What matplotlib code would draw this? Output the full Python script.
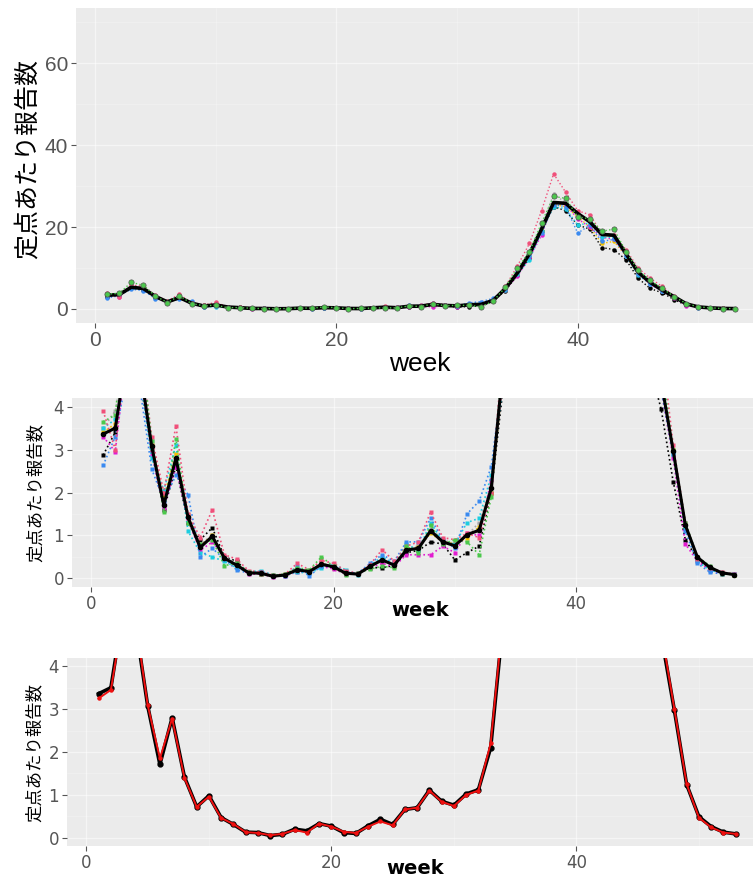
import numpy as np
import matplotlib.pyplot as plt
from matplotlib.ticker import MultipleLocator

plt.rcParams['font.family'] = ['Liberation Sans', 'Noto Sans CJK JP', 'DejaVu Sans']

# -- data: reports per sentinel site, by week
weeks = np.arange(1, 54)

observed = [3.36, 3.5, 5.3, 5.0, 3.08, 1.71, 2.8, 1.42, 0.72, 0.98,
            0.47, 0.31, 0.13, 0.12, 0.05, 0.08, 0.2, 0.16, 0.33, 0.27,
            0.12, 0.1, 0.28, 0.43, 0.31, 0.66, 0.7, 1.11, 0.85, 0.76,
            1.02, 1.12, 2.1, 5.0, 8.8, 13.5, 19.5, 26.0, 25.8, 23.3,
            21.3, 18.2, 18.0, 13.5, 9.0, 6.5, 4.6, 2.97, 1.24, 0.49,
            0.26, 0.13, 0.09]

fitted = [3.25, 3.45, 5.2, 5.1, 3.1, 1.85, 2.78, 1.4, 0.72, 0.96,
          0.46, 0.32, 0.13, 0.11, 0.06, 0.09, 0.18, 0.12, 0.33, 0.26,
          0.14, 0.11, 0.26, 0.38, 0.29, 0.66, 0.7, 1.1, 0.84, 0.74,
          1.0, 1.1, 2.2, 5.1, 8.9, 13.4, 19.4, 25.9, 25.7, 23.2,
          21.2, 18.1, 17.9, 13.4, 9.1, 6.5, 4.7, 3.0, 1.25, 0.47,
          0.24, 0.12, 0.09]

sim_black = [2.87, 3.4, 5.0, 4.7, 3.0, 1.6, 2.6, 1.3, 0.9, 1.18,
             0.5, 0.4, 0.12, 0.1, 0.05, 0.07, 0.18, 0.15, 0.3, 0.25,
             0.1, 0.1, 0.25, 0.25, 0.3, 0.6, 0.65, 0.85, 0.8, 0.43,
             0.6, 0.75, 2.0, 4.5, 8.2, 12.5, 19.0, 25.0, 24.0, 20.5,
             19.5, 15.0, 14.5, 12.0, 7.5, 5.0, 3.95, 2.25, 0.9, 0.45,
             0.22, 0.12, 0.09]
sim_pink = [3.9, 3.0, 5.8, 5.6, 3.3, 2.0, 3.55, 1.5, 0.95, 1.6,
            0.55, 0.45, 0.18, 0.15, 0.08, 0.1, 0.35, 0.2, 0.42, 0.35,
            0.18, 0.12, 0.32, 0.67, 0.4, 0.75, 0.85, 1.55, 0.95, 0.9,
            1.05, 0.95, 2.0, 5.5, 10.5, 16.0, 24.0, 33.0, 28.5, 24.0,
            23.0, 18.5, 18.0, 14.5, 10.0, 7.5, 5.5, 3.1, 1.3, 0.45,
            0.25, 0.15, 0.1]
sim_blue = [2.63, 3.3, 4.8, 4.5, 2.55, 1.8, 2.4, 1.95, 0.5, 0.7,
            0.45, 0.2, 0.12, 0.15, 0.05, 0.06, 0.28, 0.05, 0.3, 0.3,
            0.15, 0.12, 0.35, 0.55, 0.4, 0.85, 0.85, 1.4, 0.9, 0.7,
            1.5, 1.8, 2.6, 4.8, 9.0, 13.0, 18.5, 25.5, 25.0, 18.5,
            20.5, 16.5, 17.0, 13.0, 8.5, 6.0, 4.4, 2.9, 1.1, 0.35,
            0.15, 0.1, 0.1]
sim_cyan = [3.5, 3.7, 5.0, 4.8, 2.8, 2.05, 3.1, 1.1, 0.6, 0.5,
            0.4, 0.25, 0.15, 0.18, 0.08, 0.07, 0.15, 0.12, 0.25, 0.32,
            0.2, 0.08, 0.3, 0.5, 0.35, 0.8, 0.65, 1.3, 0.85, 0.8,
            1.3, 1.4, 2.4, 4.6, 8.5, 12.0, 19.0, 25.0, 24.5, 20.5,
            21.0, 17.5, 17.5, 13.0, 8.3, 6.2, 4.5, 2.9, 1.2, 0.4,
            0.2, 0.12, 0.1]
sim_magenta = [3.3, 2.95, 5.4, 4.9, 2.9, 1.65, 2.6, 1.35, 0.65, 0.85,
               0.5, 0.3, 0.1, 0.1, 0.04, 0.06, 0.15, 0.14, 0.28, 0.22,
               0.1, 0.1, 0.25, 0.35, 0.28, 0.55, 0.55, 0.55, 0.75, 0.6,
               1.05, 1.0, 2.3, 4.7, 8.0, 12.5, 18.0, 26.0, 25.5, 22.0,
               20.0, 17.5, 17.0, 13.2, 8.8, 6.0, 4.4, 2.8, 0.8, 0.4,
               0.2, 0.1, 0.1]
sim_yellow = [3.4, 3.6, 5.2, 5.0, 3.1, 1.9, 2.9, 1.45, 0.75, 1.0,
              0.48, 0.3, 0.12, 0.11, 0.06, 0.09, 0.22, 0.17, 0.35, 0.25,
              0.13, 0.11, 0.27, 0.42, 0.3, 0.7, 0.72, 1.05, 0.85, 0.8,
              0.95, 1.2, 2.0, 4.8, 8.5, 13.0, 19.0, 25.5, 25.0, 22.5,
              20.0, 16.0, 16.5, 13.0, 8.5, 6.2, 4.5, 3.0, 1.25, 0.5,
              0.25, 0.13, 0.09]
sim_gray = [3.5, 3.9, 5.5, 5.2, 3.2, 1.8, 2.9, 1.5, 0.8, 1.0,
            0.5, 0.35, 0.14, 0.13, 0.06, 0.09, 0.22, 0.18, 0.36, 0.28,
            0.13, 0.11, 0.3, 0.45, 0.33, 0.7, 0.75, 1.15, 0.9, 0.8,
            1.0, 1.3, 2.2, 5.2, 9.0, 14.0, 20.0, 28.0, 26.0, 23.5,
            21.0, 18.5, 17.5, 14.0, 9.2, 6.6, 4.7, 3.0, 1.3, 0.5,
            0.27, 0.14, 0.1]
sim_green = [3.65, 3.8, 6.5, 5.8, 3.2, 1.55, 3.25, 1.3, 0.8, 0.9,
             0.3, 0.35, 0.15, 0.1, 0.07, 0.1, 0.25, 0.2, 0.5, 0.28,
             0.08, 0.12, 0.22, 0.28, 0.25, 0.75, 0.6, 1.25, 0.8, 0.9,
             0.85, 0.55, 1.9, 5.3, 10.0, 14.0, 21.0, 27.5, 27.0, 22.5,
             22.0, 19.0, 19.5, 14.0, 9.5, 7.0, 5.0, 3.0, 1.3, 0.5,
             0.3, 0.1, 0.09]

sims = [sim_black, sim_gray, sim_yellow, sim_magenta, sim_cyan,
        sim_blue, sim_pink, sim_green]
sim_colors = ['black', '#A8A8A8', '#F2C200', '#E21CD0', '#1CCDE0',
              '#3A8AF0', '#F0507A', '#4CC84C']

ylabel = '定点あたり報告数'
W, H = 753, 881

fig = plt.figure(figsize=(W / 100, H / 100), dpi=100)


def add_panel(left, right, top, bottom):
    # pixel box -> figure fraction
    return fig.add_axes([left / W, 1 - bottom / H, (right - left) / W, (bottom - top) / H])


def style(ax, ylim, yticks, yminor, tick_size, tick_font):
    ax.set_facecolor('#EBEBEB')
    ax.set_xlim(-1.6, 55.6)
    ax.set_ylim(*ylim)
    ax.set_xticks([0, 20, 40])
    ax.set_yticks(yticks)
    ax.xaxis.set_minor_locator(MultipleLocator(10))
    ax.yaxis.set_minor_locator(MultipleLocator(yminor))
    ax.grid(which='major', color='white', lw=1.0, alpha=0.5)
    ax.grid(which='minor', color='white', lw=0.5, alpha=0.3)
    ax.set_axisbelow(True)
    for s in ax.spines.values():
        s.set_visible(False)
    ax.tick_params(which='major', length=3.5, width=0.8, color='#555555',
                   labelcolor='#555555', labelsize=tick_size, pad=2)
    ax.tick_params(which='minor', length=0)
    for lab in ax.get_xticklabels() + ax.get_yticklabels():
        lab.set_family(tick_font)


# -- top panel: full season
ax1 = add_panel(75.7, 766, 8, 323.3)
style(ax1, (-3.5, 73.5), [0, 20, 40, 60], 10, 15, 'Liberation Sans')
for vals, c in zip(sims[:-1], sim_colors[:-1]):
    ax1.plot(weeks, vals, ls=':', lw=1.0, color=c, marker='o', ms=3.2, mec='none')
ax1.plot(weeks, observed, color='black', lw=2.6)
ax1.plot(weeks, sim_green, ls=':', lw=1.0, color=sim_colors[-1], marker='o', ms=3.8,
         mec='#555555', mew=0.5)
ax1.set_ylabel(ylabel, fontsize=18, family='Noto Sans CJK JP')
ax1.yaxis.set_label_coords((28 - 75.7) / 690.3, 0.52)
ax1.yaxis.label.set_va('center')
ax1.set_xlabel('week', fontsize=19)
ax1.xaxis.set_label_coords((420 - 75.7) / 690.3, (323.3 - 364) / 315.3)
ax1.xaxis.label.set_va('center')

# -- middle panel: zoom on low values, all runs
ax2 = add_panel(71.6, 765.4, 398, 587)
style(ax2, (-0.2, 4.2), [0, 1, 2, 3, 4], 0.5, 12, 'DejaVu Sans')
for vals, c in zip(sims, sim_colors):
    ax2.plot(weeks, vals, ls=':', lw=1.2, color=c, marker='s', ms=2.6, mec='none')
ax2.plot(weeks, observed, color='black', lw=2.2, marker='o', ms=3)
ax2.set_ylabel(ylabel, fontsize=12.5, family='Noto Sans CJK JP')
ax2.yaxis.set_label_coords((36 - 71.6) / 693.8, 0.5)
ax2.yaxis.label.set_va('center')
ax2.set_xlabel('week', fontsize=14, family='DejaVu Sans', weight='bold')
ax2.xaxis.set_label_coords((420 - 71.6) / 693.8, (587 - 611) / 189)
ax2.xaxis.label.set_va('center')

# -- bottom panel: observed vs fitted
ax3 = add_panel(66.8, 767.5, 657.7, 846.3)
style(ax3, (-0.2, 4.2), [0, 1, 2, 3, 4], 0.5, 12, 'DejaVu Sans')
ax3.plot(weeks, observed, color='black', lw=2.6, marker='o', ms=3.5)
ax3.plot(weeks, fitted, color='#F01010', lw=1.4, marker='o', ms=2.2)
ax3.set_ylabel(ylabel, fontsize=12.5, family='Noto Sans CJK JP')
ax3.yaxis.set_label_coords((35 - 66.8) / 700.7, 0.5)
ax3.yaxis.label.set_va('center')
ax3.set_xlabel('week', fontsize=14, family='DejaVu Sans', weight='bold')
ax3.xaxis.set_label_coords((415 - 66.8) / 700.7, (846.3 - 869) / 188.6)
ax3.xaxis.label.set_va('center')

plt.savefig('out.png', dpi=100)
